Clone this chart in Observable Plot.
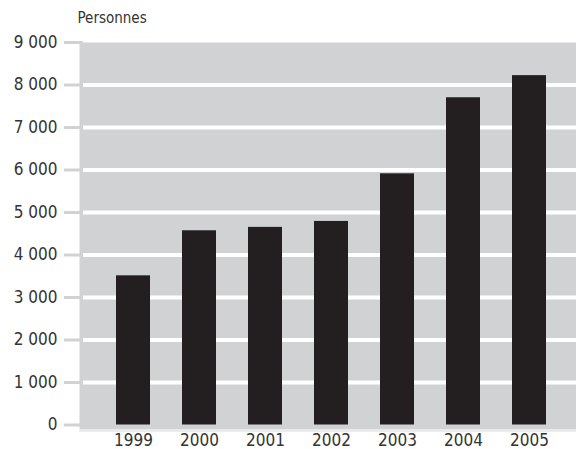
<!DOCTYPE html>
<html>
<head>
<meta charset="utf-8">
<script src="https://cdn.jsdelivr.net/npm/d3@7"></script>
<script src="https://cdn.jsdelivr.net/npm/@observablehq/plot@0.6"></script>
<style>
  html, body { margin: 0; padding: 0; background: #fff; }
  svg { display: block; }
</style>
</head>
<body>
<div id="chart"></div>
<script>
const years = ["1999", "2000", "2001", "2002", "2003", "2004", "2005"];
const values = [3510, 4570, 4650, 4790, 5910, 7700, 8220];
const yTicks = [0, 1000, 2000, 3000, 4000, 5000, 6000, 7000, 8000, 9000];
const gridTicks = [1000, 2000, 3000, 4000, 5000, 6000, 7000, 8000];
const yLabel = "Personnes";

const data = years.map((y, i) => ({year: y, value: values[i]}));
const fmt = d3.formatLocale({thousands: "\u00a0", grouping: [3], decimal: ","}).format(",");

const chart = Plot.plot({
  width: 576,
  height: 449,
  marginLeft: 79,
  marginRight: 0,
  marginTop: 42,
  marginBottom: 20,
  style: {fontFamily: "'Liberation Sans Narrow', 'DejaVu Sans Condensed', sans-serif", fontSize: "17px", color: "#333", background: "#fff"},
  x: {domain: years, paddingInner: 0.49, paddingOuter: 0, insetLeft: 35, insetRight: 28, label: null},
  y: {domain: [0, 9000], insetBottom: 4.5, label: null},
  marks: [
    Plot.frame({fill: "#d1d2d4", stroke: null}),
    Plot.ruleY([0], {stroke: "#ececed", strokeWidth: 2, dy: 6}),
    Plot.ruleY(gridTicks, {stroke: "#fff", strokeWidth: 4, insetLeft: 4}),
    Plot.barY(data, {x: "year", y: "value", fill: "#231f20"}),
    Plot.axisY({ticks: yTicks, tickFormat: fmt, tickSize: 19, tickPadding: 7, dx: 4, stroke: "#d1d2d4", strokeWidth: 3, fill: "#333", label: null}),
    Plot.axisX({tickSize: 0, tickPadding: 4, fill: "#333", label: null}),
    Plot.text([yLabel], {frameAnchor: "top-left", text: d => d, textAnchor: "start", lineAnchor: "bottom", dx: -2, dy: -20, fill: "#333", fontSize: 15})
  ]
});
document.getElementById("chart").appendChild(chart);
</script>
</body>
</html>
